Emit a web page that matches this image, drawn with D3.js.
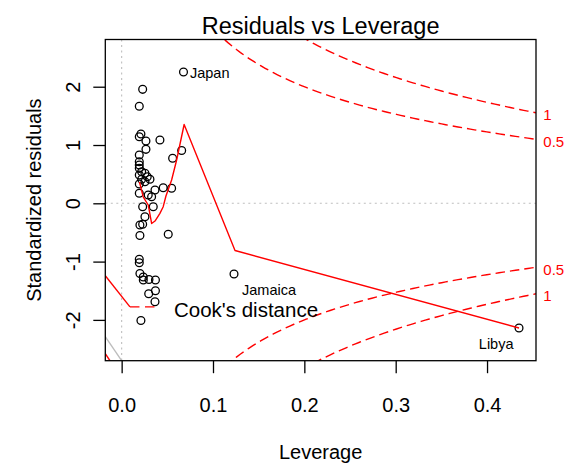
<!DOCTYPE html>
<html>
<head>
<meta charset="utf-8">
<script src="https://cdn.jsdelivr.net/npm/d3@7"></script>
<style>
  body { margin: 0; background: #fff; }
  svg { display: block; }
  text { font-family: "Liberation Sans", Arial, Helvetica, sans-serif; }
</style>
</head>
<body>
<svg id="chart" width="566" height="463"></svg>
<script>
// Leverage (hat values) and standardized residuals of the fitted model
const leverage = [
  0.0677, 0.0230, 0.0193, 0.0211, 0.0193, 0.0266, 0.0419, 0.0266, 0.0657, 0.0558,
  0.0193, 0.0193, 0.0193, 0.0193, 0.0219, 0.0255, 0.0280, 0.0310, 0.0193, 0.0219,
  0.0255, 0.0193, 0.0455, 0.0547, 0.0365, 0.0291, 0.0193, 0.0328, 0.0230, 0.0346,
  0.0255, 0.0200, 0.0230, 0.0200, 0.0510, 0.0193, 0.0193, 0.0200, 0.0237, 0.0237,
  0.0299, 0.0370, 0.0370, 0.0296, 0.0365, 0.0211, 0.1230, 0.4350
];
const stdResid = [
  2.252, 1.955, 1.664, 1.189, 1.142, 1.069, 1.086, 0.926, 0.906, 0.772,
  0.828, 0.714, 0.657, 0.600, 0.542, 0.515, 0.456, 0.412, 0.485, 0.412,
  0.370, 0.331, 0.268, 0.257, 0.228, 0.142, 0.172, 0.113, -0.058, -0.058,
  -0.230, -0.372, -0.360, -0.552, -0.532, -0.961, -1.019, -1.204, -1.264, -1.316,
  -1.307, -1.316, -1.499, -1.551, -1.688, -2.010, -1.213, -2.139
];

// Points identified by name
const labelIndex = [0, 46, 47];
const labelNames = ["Japan", "Jamaica", "Libya"];

// Smoothed trend of residuals against leverage
const smoothLev = [0.0195, 0.0237, 0.0291, 0.0328, 0.0365, 0.0419, 0.0455, 0.0485, 0.0547, 0.0602, 0.0684, 0.1241, 0.4350];
const smoothRes = [0.365, 0.108, -0.029, -0.346, -0.304, -0.172, -0.058, 0.125, 0.400, 0.743, 1.352, -0.810, -2.139];

// Cook's distance contour levels, number of model coefficients
const cookLevels = [0.5, 1];
const cookLevelLabels = ["0.5", "1"];
const nCoef = 2;

// Short strokes near the lower-left corner of the panel
const leadLev = [-0.0179, 0.0091];
const leadRes = [-1.242, -1.777];
const greyLev = [-0.0179, 0.0000];
const greyRes = [-2.288, -2.700];
const cornerLev = [-0.0179, -0.0128];
const cornerRes = [-2.580, -2.700];

// Legend sample line (leverage span) and level
const legendLev = [0.0091, 0.0365];
const legendRes = -1.777;
const legendText = "Cook's distance";

// Axis ticks and ranges
const xTicks = [0, 0.1, 0.2, 0.3, 0.4];
const xTickLabels = ["0.0", "0.1", "0.2", "0.3", "0.4"];
const yTicks = [-2, -1, 0, 1, 2];
const yTickLabels = ["-2", "-1", "0", "1", "2"];
const xDomain = [-0.0179, 0.4536];
const yDomain = [-2.70, 2.81];

const titleText = "Residuals vs Leverage";
const xTitle = "Leverage";
const yTitle = "Standardized residuals";

// ---- layout ----
const plot = { left: 105.3, right: 536, top: 39.5, bottom: 360.7 };
const svg = d3.select("#chart");
const x = d3.scaleLinear().domain(xDomain).range([plot.left, plot.right]);
const y = d3.scaleLinear().domain(yDomain).range([plot.bottom, plot.top]);

svg.append("defs").append("clipPath").attr("id", "panel")
  .append("rect")
  .attr("x", plot.left).attr("y", plot.top)
  .attr("width", plot.right - plot.left).attr("height", plot.bottom - plot.top);

const panel = svg.append("g").attr("clip-path", "url(#panel)");

// reference lines at zero
panel.append("line")
  .attr("x1", plot.left).attr("x2", plot.right)
  .attr("y1", y(0)).attr("y2", y(0))
  .attr("stroke", "#bebebe").attr("stroke-width", 1.1).attr("stroke-dasharray", "2,3.5");
panel.append("line")
  .attr("x1", x(0)).attr("x2", x(0))
  .attr("y1", plot.top).attr("y2", plot.bottom)
  .attr("stroke", "#bebebe").attr("stroke-width", 1.1).attr("stroke-dasharray", "2,3.5");

// corner strokes
const pairLine = d3.line().x(d => x(d[0])).y(d => y(d[1]));
panel.append("path")
  .attr("d", pairLine(d3.zip(greyLev, greyRes)))
  .attr("fill", "none").attr("stroke", "#bdbdbd").attr("stroke-width", 1.3);
panel.append("path")
  .attr("d", pairLine(d3.zip(cornerLev, cornerRes)))
  .attr("fill", "none").attr("stroke", "#ff0000").attr("stroke-width", 1.4);
panel.append("path")
  .attr("d", pairLine(d3.zip(leadLev, leadRes)))
  .attr("fill", "none").attr("stroke", "#ff0000").attr("stroke-width", 1.4);

// points
panel.selectAll("circle.pt")
  .data(d3.zip(leverage, stdResid))
  .join("circle")
  .attr("class", "pt")
  .attr("cx", d => x(d[0]))
  .attr("cy", d => y(d[1]))
  .attr("r", 3.9)
  .attr("fill", "none")
  .attr("stroke", "#000")
  .attr("stroke-width", 1.3);

// smoother
panel.append("path")
  .attr("d", pairLine(d3.zip(smoothLev, smoothRes)))
  .attr("fill", "none").attr("stroke", "#ff0000").attr("stroke-width", 1.4)
  .attr("stroke-linejoin", "round");

// Cook's distance contours: r = ±sqrt(level * p * (1 - h) / h)
const hStart = Math.min(d3.min(leverage), d3.max(leverage) / 100);
const hh = d3.range(101).map(i => hStart + (xDomain[1] - hStart) * i / 100);
cookLevels.forEach(level => {
  [1, -1].forEach(sign => {
    const pts = hh.map(h => [h, sign * Math.sqrt(level * nCoef * (1 - h) / h)]);
    panel.append("path")
      .attr("d", pairLine(pts))
      .attr("fill", "none").attr("stroke", "#ff0000").attr("stroke-width", 1.4)
      .attr("stroke-dasharray", "9.5,5");
  });
});

// legend
panel.append("line")
  .attr("x1", x(legendLev[0])).attr("x2", x(legendLev[1]))
  .attr("y1", y(legendRes)).attr("y2", y(legendRes))
  .attr("stroke", "#ff0000").attr("stroke-width", 1.4).attr("stroke-dasharray", "9.5,5.5");
svg.append("text")
  .attr("x", x(legendLev[1]) + 19).attr("y", y(legendRes) + 10.5)
  .attr("font-size", 20.5).attr("fill", "#000")
  .text(legendText);

// point labels
labelIndex.forEach((idx, i) => {
  const px = x(leverage[idx]), py = y(stdResid[idx]);
  let tx, ty, anchor;
  if (i === 0) { tx = px + 6.5; ty = py + 6; anchor = "start"; }
  else if (i === 1) { tx = px + 8; ty = py + 21; anchor = "start"; }
  else { tx = px - 5.5; ty = py + 21.3; anchor = "end"; }
  svg.append("text")
    .attr("x", tx).attr("y", ty)
    .attr("text-anchor", anchor)
    .attr("font-size", 14.5)
    .attr("fill", "#000")
    .text(labelNames[i]);
});

// right-side contour labels
cookLevels.forEach((level, i) => {
  const r = Math.sqrt(level * nCoef * (1 - xDomain[1]) / xDomain[1]);
  [r, -r].forEach(v => {
    svg.append("text")
      .attr("x", plot.right + 7.3)
      .attr("y", y(v) + 2)
      .attr("dominant-baseline", "central")
      .attr("font-size", 15)
      .attr("fill", "#ff0000")
      .text(cookLevelLabels[i]);
  });
});

// axes
const xAxis = svg.append("g")
  .attr("transform", `translate(0,${plot.bottom})`)
  .call(d3.axisBottom(x).tickValues(xTicks)
    .tickFormat((d, i) => xTickLabels[i]).tickSize(12.5).tickPadding(24.6));
xAxis.select(".domain").remove();
xAxis.selectAll(".tick line").attr("stroke", "#000").attr("stroke-width", 1.3);
xAxis.selectAll(".tick text").attr("font-size", 20).attr("fill", "#000")
  .attr("font-family", "Liberation Sans, Arial, sans-serif");

const yAxis = svg.append("g")
  .attr("transform", `translate(${plot.left},0)`)
  .call(d3.axisLeft(y).tickValues(yTicks)
    .tickFormat((d, i) => yTickLabels[i]).tickSize(12));
yAxis.select(".domain").remove();
yAxis.selectAll(".tick line").attr("stroke", "#000").attr("stroke-width", 1.3);
yAxis.selectAll(".tick text")
  .attr("x", null).attr("dy", null)
  .attr("text-anchor", "middle")
  .attr("transform", "translate(-25,0) rotate(-90)")
  .attr("font-size", 20).attr("fill", "#000")
  .attr("font-family", "Liberation Sans, Arial, sans-serif");

// frame
svg.append("rect")
  .attr("x", plot.left).attr("y", plot.top)
  .attr("width", plot.right - plot.left).attr("height", plot.bottom - plot.top)
  .attr("fill", "none").attr("stroke", "#000").attr("stroke-width", 1.3);

// titles
svg.append("text")
  .attr("x", (plot.left + plot.right) / 2).attr("y", 33.5)
  .attr("text-anchor", "middle").attr("font-size", 23.5).attr("fill", "#000")
  .text(titleText);
svg.append("text")
  .attr("x", (plot.left + plot.right) / 2).attr("y", 458.5)
  .attr("text-anchor", "middle").attr("font-size", 20).attr("fill", "#000")
  .text(xTitle);
svg.append("text")
  .attr("transform", `translate(41,${(plot.top + plot.bottom) / 2}) rotate(-90)`)
  .attr("text-anchor", "middle").attr("font-size", 20).attr("fill", "#000")
  .text(yTitle);
</script>
</body>
</html>
